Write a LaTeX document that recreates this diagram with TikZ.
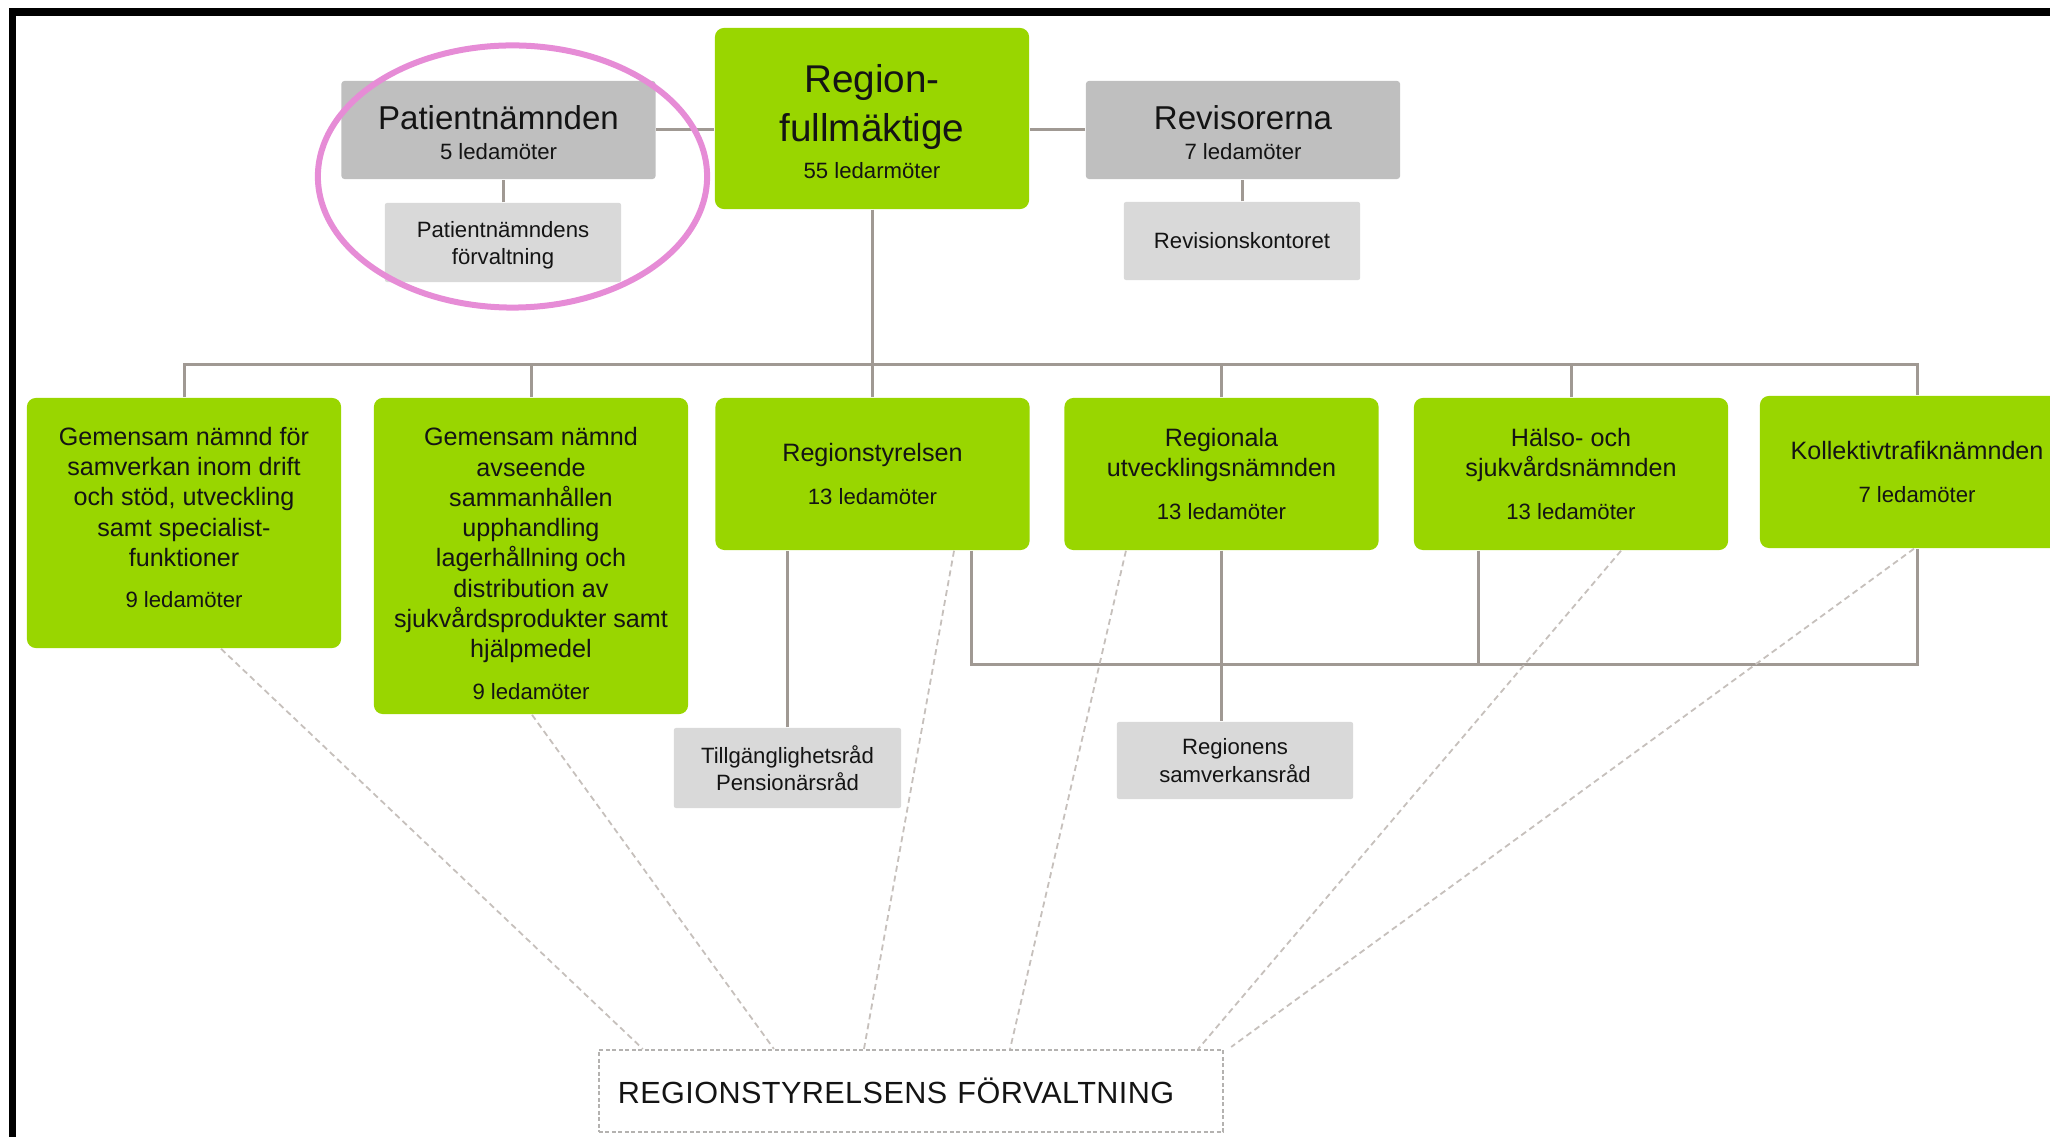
\documentclass[tikz,border=0pt]{standalone}
\usepackage{fontspec}
\setmainfont{Liberation Sans}
\usetikzlibrary{calc}
\definecolor{grn}{RGB}{153,214,0}
\definecolor{dgray}{RGB}{191,191,191}
\definecolor{lgray}{RGB}{217,217,217}
\definecolor{lin}{RGB}{160,153,147}
\definecolor{dln}{RGB}{198,192,188}
\definecolor{fvlline}{RGB}{180,178,176}
\definecolor{ring}{RGB}{230,140,214}
\definecolor{txt}{RGB}{20,20,20}
\newcommand{\fsled}{\fontsize{6.3}{7.8}\selectfont}
\newcommand{\topstrut}[1]{\rule{0pt}{#1}}
\newcommand{\botstrut}[1]{\rule[-#1]{0pt}{0pt}}

\begin{document}
\begin{tikzpicture}[x=0.01cm,y=-0.01cm,
    gbox/.style={fill=grn,rounded corners=0.09cm,inner sep=0,text width=3.14cm,align=flush center,text=txt,font=\fontsize{7.15}{8.6}\selectfont},
    dbox/.style={fill=dgray,rounded corners=0.03cm,inner sep=0,text width=3.14cm,minimum height=0.98cm,align=flush center,text=txt,font=\fontsize{9.4}{8.35}\selectfont},
    lbox/.style={fill=lgray,rounded corners=0.02cm,inner sep=0,align=flush center,text=txt,font=\fontsize{6.3}{7.8}\selectfont},
    conn/.style={draw=lin,line width=0.03cm},
    dsh/.style={draw=dln,line width=0.018cm,dash pattern=on 0.06cm off 0.04cm}]
    \useasboundingbox (0,0) rectangle (2050,1137);
    \clip (0,0) rectangle (2050,1137);
    \fill[black] (9,8) rectangle (2050,16);
    \fill[black] (9,8) rectangle (16,1137);

    \node[gbox,minimum height=1.81cm,font=\fontsize{11}{13.9}\selectfont] (fullm) at (872,118.5) {\topstrut{9.9pt}Region-\\fullmäktige\\[-3.3pt]{\fsled 55 ledarmöter}};
    \node[dbox] (patn) at (498.5,130) {\topstrut{8.4pt}Patientnämnden\\{\fsled 5 ledamöter}};
    \node[dbox] (rev) at (1243,130) {\topstrut{8.4pt}Revisorerna\\{\fsled 7 ledamöter}};
    \node[lbox,text width=2.36cm,minimum height=0.79cm] (patf) at (503,242.5) {\topstrut{6.1pt}Patientnämndens\\förvaltning};
    \node[lbox,text width=2.36cm,minimum height=0.78cm] (revk) at (1242,241) {Revisionskontoret};

    \node[gbox,minimum height=2.5cm] (b1) at (184,523) {Gemensam nämnd för\\samverkan inom drift\\och stöd, utveckling\\samt specialist-\\funktioner\\[3.25pt]{\fsled 9 ledamöter}\botstrut{3.1pt}};
    \node[gbox,minimum height=3.16cm] (b2) at (531,556) {\topstrut{9.6pt}Gemensam nämnd\\avseende\\sammanhållen\\upphandling\\lagerhållning och\\distribution av\\sjukvårdsprodukter samt\\hjälpmedel\\[3.4pt]{\fsled 9 ledamöter}};
    \node[gbox,minimum height=1.52cm] (rs) at (872.5,474) {Regionstyrelsen\\[3.9pt]{\fsled 13 ledamöter}};
    \node[gbox,minimum height=1.52cm] (run) at (1221.5,474) {Regionala\\utvecklingsnämnden\\[3.8pt]{\fsled 13 ledamöter}};
    \node[gbox,minimum height=1.52cm] (hsn) at (1571,474) {Hälso- och\\sjukvårdsnämnden\\[3.8pt]{\fsled 13 ledamöter}};
    \node[gbox,minimum height=1.52cm] (ktn) at (1917,472) {Kollektivtrafiknämnden\\[3.9pt]{\fsled 7 ledamöter}};

    \node[lbox,text width=2.27cm,minimum height=0.8cm] (tillg) at (787.5,768) {Tillgänglighetsråd\\Pensionärsråd};
    \node[lbox,text width=2.36cm,minimum height=0.77cm] (rsam) at (1235,760.5) {Regionens\\samverkansråd};
    \node[draw=fvlline,line width=0.02cm,dash pattern=on 0.04cm off 0.025cm,text width=5.86cm,inner sep=0,inner xsep=0.19cm,minimum height=0.82cm,align=left,text=txt,font=\fontsize{8.7}{10}\selectfont\addfontfeature{LetterSpace=1.4}] (fvl) at (911,1091) {REGIONSTYRELSENS FÖRVALTNING};

    \coordinate (bus) at (0,365);
    \coordinate (brk) at (0,665);
    \draw[conn] (patn.east) -- (fullm.west |- patn.east);
    \draw[conn] (rev.west) -- (fullm.east |- rev.west);
    \draw[conn] (patf.north) -- (patf.north |- patn.south);
    \draw[conn] (revk.north) -- (revk.north |- rev.south);
    \draw[conn] (fullm.south) -- (fullm.south |- bus);
    \draw[conn] (b1.north) -- (b1.north |- bus) -- (ktn.north |- bus) -- (ktn.north);
    \foreach \n in {b2,rs,run,hsn}
        \draw[conn] (\n.north) -- (\n.north |- bus);
    \draw[conn] (tillg.north) -- (tillg.north |- rs.south);
    \draw[conn] (run.south) -- (run.south |- rsam.north);
    \draw[conn] ([xshift=0.985cm]rs.south) -- ([xshift=0.985cm]rs.south |- brk) -- (ktn.south |- brk) -- (ktn.south);
    \draw[conn] ([xshift=-0.92cm]hsn.south) -- ([xshift=-0.92cm]hsn.south |- brk);

    \draw[dsh] ([xshift=0.37cm]b1.south) -- ([xshift=-2.68cm]fvl.north);
    \draw[dsh] ([xshift=0.01cm]b2.south) -- ([xshift=-1.37cm]fvl.north);
    \draw[dsh] ([xshift=0.815cm]rs.south) -- ([xshift=-0.47cm]fvl.north);
    \draw[dsh] ([xshift=-0.955cm]run.south) -- ([xshift=0.99cm]fvl.north);
    \draw[dsh] ([xshift=0.5cm]hsn.south) -- ([xshift=2.87cm]fvl.north);
    \draw[dsh] ([xshift=-0.03cm]ktn.south) -- ([shift={(0.07cm,0.02cm)}]fvl.north east);

    \draw[ring,line width=0.06cm] (512.5,176.5) ellipse [x radius=1.945cm,y radius=1.31cm];
\end{tikzpicture}
\end{document}
